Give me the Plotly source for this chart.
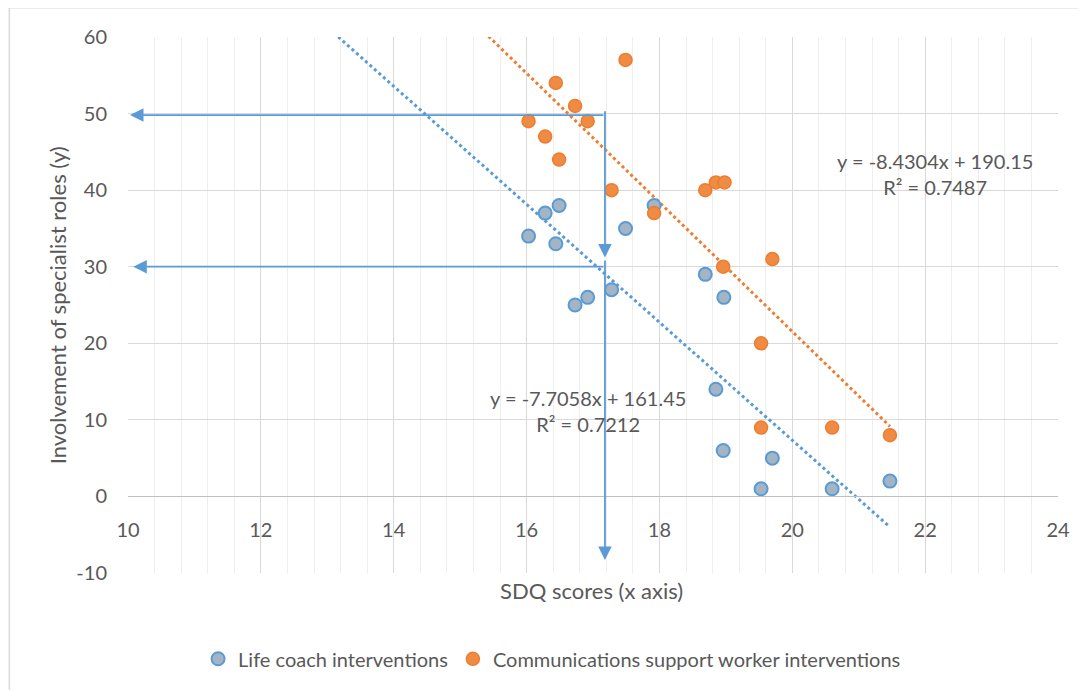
import numpy as np
import plotly.graph_objects as go

# ---- data ----
life_coach_x = [16.03, 16.28, 16.49, 16.44, 16.73, 16.92, 17.28, 17.49, 17.92,
                18.69, 18.97, 18.85, 18.96, 19.53, 19.70, 20.60, 21.47]
life_coach_y = [34, 37, 38, 33, 25, 26, 27, 35, 38, 29, 26, 14, 6, 1, 5, 1, 2]

csw_x = [16.03, 16.28, 16.44, 16.49, 16.73, 16.92, 17.28, 17.49, 17.92,
         18.69, 18.85, 18.98, 18.96, 19.53, 19.53, 19.70, 20.60, 21.47]
csw_y = [49, 47, 54, 44, 51, 49, 40, 57, 37, 40, 41, 41, 30, 20, 9, 31, 9, 8]

life_coach_slope, life_coach_intercept, life_coach_r2 = -7.7058, 161.45, 0.7212
csw_slope, csw_intercept, csw_r2 = -8.4304, 190.15, 0.7487

x_ticks = [10, 12, 14, 16, 18, 20, 22, 24]
y_ticks = [-10, 0, 10, 20, 30, 40, 50, 60]
y_tick_labels = ["-10", "0", "10", "20", "30", "40", "50", "60"]

series_names = ["Life coach interventions", "Communications support worker interventions"]

# ---- styling ----
FONT = "Lato"
TXT = "#595959"
BLUE = "#5B9BD5"
BLUE_FILL = "#A3B5C5"
ORANGE = "#ED7D31"
ORANGE_FILL = "#EF8B43"
BACKCAST = 3.0


def trend(xs, slope, intercept):
    xl = np.array([min(xs) - BACKCAST, max(xs)])
    return xl, slope * xl + intercept


fig = go.Figure()

lx, ly = trend(life_coach_x, life_coach_slope, life_coach_intercept)
ox, oy = trend(csw_x, csw_slope, csw_intercept)

fig.add_trace(go.Scatter(x=lx, y=ly, mode="lines", showlegend=False, hoverinfo="skip",
                         line=dict(color=BLUE, width=3, dash="dot")))
fig.add_trace(go.Scatter(x=ox, y=oy, mode="lines", showlegend=False, hoverinfo="skip",
                         line=dict(color=ORANGE, width=3, dash="dot")))

fig.add_trace(go.Scatter(x=life_coach_x, y=life_coach_y, mode="markers", name=series_names[0],
                         marker=dict(size=13, color=BLUE_FILL, line=dict(color=BLUE, width=2))))
fig.add_trace(go.Scatter(x=csw_x, y=csw_y, mode="markers", name=series_names[1],
                         marker=dict(size=13, color=ORANGE_FILL, line=dict(color=ORANGE, width=1.5))))
# invisible helper trace so the secondary (labels-at-zero) x axis is drawn
fig.add_trace(go.Scatter(x=life_coach_x, y=life_coach_y, xaxis="x2", mode="markers",
                         marker=dict(opacity=0), showlegend=False, hoverinfo="skip"))

# arrows
arrow_common = dict(text="", showarrow=True, arrowhead=2, arrowsize=1.5, arrowwidth=1.8,
                    arrowcolor=BLUE, axref="x", ayref="y", xref="x", yref="y", standoff=0)
annotations = [
    dict(x=10.03, y=49.8, ax=17.18, ay=49.8, **arrow_common),
    dict(x=17.18, y=31.2, ax=17.18, ay=50.5, **arrow_common),
    dict(x=17.18, y=-8.3, ax=17.18, ay=31.0, **arrow_common),
    dict(x=10.08, y=30.0, ax=17.18, ay=30.0, **arrow_common),
]

eq_font = dict(family=FONT, size=20, color=TXT)
annotations += [
    dict(x=22.15, y=42.1, xref="x", yref="y", showarrow=False, font=eq_font,
         text=f"y = {csw_slope}x + {csw_intercept}<br>R² = {csw_r2}"),
    dict(x=16.92, y=11.1, xref="x", yref="y", showarrow=False, font=eq_font,
         text=f"y = {life_coach_slope}x + {life_coach_intercept}<br>R² = {life_coach_r2}"),
    dict(x=0.498, y=-0.032, xref="paper", yref="paper", showarrow=False,
         text="SDQ scores (x axis)", font=dict(family=FONT, size=22, color=TXT),
         yanchor="middle"),
    dict(x=-0.076, y=0.5, xref="paper", yref="paper", showarrow=False, textangle=-90,
         text="Involvement of specialist roles (y)", font=dict(family=FONT, size=22, color=TXT),
         xanchor="center", yanchor="middle"),
]

fig.update_layout(
    width=1078, height=682,
    margin=dict(l=120, r=28, t=29, b=114),
    paper_bgcolor="white", plot_bgcolor="white",
    font=dict(family=FONT, color=TXT, size=18),
    annotations=annotations,
    showlegend=True,
    legend=dict(orientation="h", x=0.456, y=-0.16, xanchor="center", yanchor="middle",
                font=dict(family=FONT, size=20, color=TXT), itemwidth=30,
                tracegroupgap=0, bgcolor="rgba(0,0,0,0)"),
    xaxis=dict(range=[10, 24], tickvals=x_ticks, showticklabels=False, showgrid=True,
               gridcolor="#D9D9D9", gridwidth=1, zeroline=False, showline=False,
               minor=dict(dtick=0.4, showgrid=True, gridcolor="#EEEEEE", gridwidth=1),
               fixedrange=True),
    xaxis2=dict(range=[10, 24], overlaying="x", anchor="free", position=10 / 70,
                tickvals=x_ticks, ticktext=[str(v) for v in x_ticks], showgrid=False,
                zeroline=False, showline=True, linecolor="#BFBFBF", linewidth=1,
                ticks="outside", ticklen=16, tickcolor="rgba(0,0,0,0)",
                tickfont=dict(family=FONT, size=20, color=TXT)),
    yaxis=dict(range=[-10, 60], tickvals=y_ticks, ticktext=y_tick_labels, showgrid=True,
               gridcolor="#D9D9D9", gridwidth=1, zeroline=False, showline=False,
               ticks="outside", ticklen=16, tickcolor="rgba(0,0,0,0)",
               tickfont=dict(family=FONT, size=20, color=TXT)),
    shapes=[dict(type="rect", xref="paper", yref="paper", x0=-0.1276, y0=-0.3,
                 x1=1.1, y1=1.0548, line=dict(color="#D9D9D9", width=1.5), layer="below")],
)

fig.write_html("out.html")
